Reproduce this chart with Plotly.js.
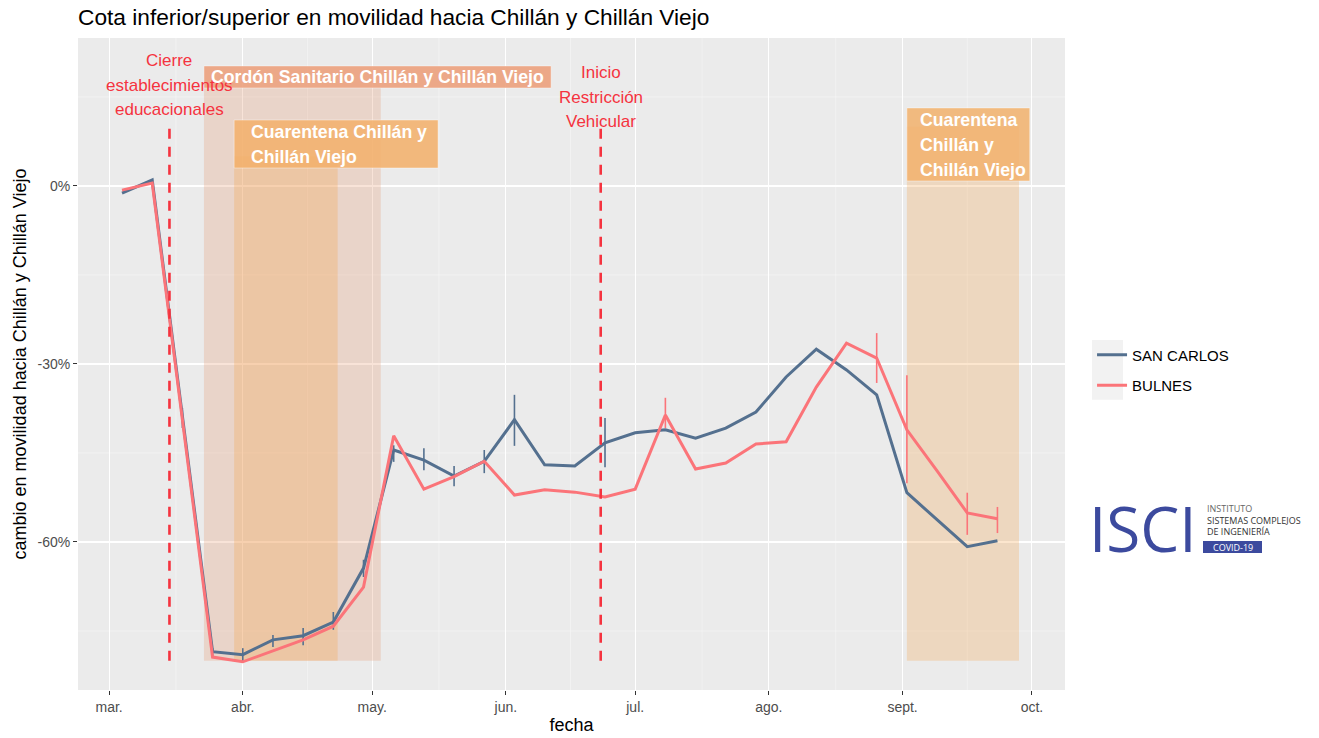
<!DOCTYPE html>
<html><head><meta charset="utf-8">
<script src="https://cdn.plot.ly/plotly-3.0.1.min.js"></script>
<style>html,body{margin:0;padding:0;background:#fff}#chart{width:1319px;height:738px}</style>
</head><body><div id="chart"></div>
<script>
const dates = ['2020-03-04','2020-03-11','2020-03-18','2020-03-25','2020-04-01','2020-04-08','2020-04-15','2020-04-22','2020-04-29','2020-05-06','2020-05-13','2020-05-20','2020-05-27','2020-06-03','2020-06-10','2020-06-17','2020-06-24','2020-07-01','2020-07-08','2020-07-15','2020-07-22','2020-07-29','2020-08-05','2020-08-12','2020-08-19','2020-08-26','2020-09-02','2020-09-09','2020-09-16','2020-09-23'];
const sanCarlos = [-1.2, 1.0, -38.8, -78.5, -79.0, -76.5, -75.8, -73.5, -64.4, -44.5, -46.2, -48.9, -46.4, -39.4, -47.0, -47.2, -43.3, -41.6, -41.1, -42.5, -40.8, -38.1, -32.2, -27.5, -31.0, -35.2, -51.7, -56.3, -60.8, -59.8];
const sanCarlosLow = [-1.2, 1.0, -40.8, -79.2, -80.2, -77.7, -77.4, -74.8, -65.9, -46.5, -47.9, -50.6, -48.4, -43.8, -47.0, -47.2, -47.4, -41.6, -41.1, -42.5, -40.8, -38.1, -32.2, -27.5, -31.0, -35.2, -51.7, -56.3, -60.8, -59.8];
const sanCarlosHigh = [-1.2, 1.0, -37.4, -77.9, -77.9, -75.7, -74.5, -71.8, -63.0, -43.7, -44.2, -47.2, -44.5, -35.2, -47.0, -47.2, -39.1, -41.6, -41.1, -42.5, -40.8, -38.1, -32.2, -27.5, -31.0, -35.2, -51.7, -56.3, -60.8, -59.8];
const bulnes = [-0.7, 0.5, -39.4, -79.4, -80.2, -78.4, -76.5, -74.2, -67.6, -42.1, -51.1, -49.0, -46.4, -52.1, -51.2, -51.6, -52.4, -51.1, -38.6, -47.7, -46.7, -43.5, -43.1, -33.9, -26.5, -29.0, -41.1, -48.0, -55.1, -56.1];
const bulnesLow = [-0.7, 0.5, -39.4, -79.4, -80.2, -78.4, -76.5, -74.2, -67.6, -42.1, -51.1, -49.0, -46.4, -52.1, -51.2, -51.6, -52.4, -51.1, -40.8, -47.7, -46.7, -43.5, -43.1, -33.9, -26.5, -33.2, -50.1, -48.0, -58.8, -58.5];
const bulnesHigh = [-0.7, 0.5, -39.4, -79.4, -80.2, -78.4, -76.5, -74.2, -67.6, -42.1, -51.1, -49.0, -46.4, -52.1, -51.2, -51.6, -52.4, -51.1, -35.7, -47.7, -46.7, -43.5, -43.1, -33.9, -26.5, -24.8, -31.9, -48.0, -51.7, -54.1];
const seriesNames = ['SAN CARLOS', 'BULNES'];
const monthTicks = ['2020-03-01','2020-04-01','2020-05-01','2020-06-01','2020-07-01','2020-08-01','2020-09-01','2020-10-01'];
const monthLabels = ['mar.','abr.','may.','jun.','jul.','ago.','sept.','oct.'];
const minorXTicks = ['2020-03-16 12:00','2020-04-16','2020-05-16 12:00','2020-06-16','2020-07-16 12:00','2020-08-16 12:00','2020-09-16'];
const yTicks = [0, -30, -60];
const yTickLabels = ['0%', '-30%', '-60%'];
const minorYTicks = [15, -15, -45, -75];
const eventDates = ['2020-03-15', '2020-06-23'];
const eventLabels = [['Cierre','establecimientos','educacionales'], ['Inicio','Restricción','Vehicular']];
const periodStart = ['2020-03-23', '2020-03-30', '2020-09-02'];
const periodEnd = ['2020-05-03', '2020-04-23', '2020-09-28'];
const periodLabels = [['Cordón Sanitario Chillán y Chillán Viejo'], ['Cuarentena Chillán y','Chillán Viejo'], ['Cuarentena','Chillán y','Chillán Viejo']];

const FONT = 'Liberation Sans, Arial, sans-serif';
const colSC = '#54708F', colBU = '#FB7479';
const RED = '#F5333F';

function errs(v, lo, hi){
  return {type:'data', symmetric:false,
    array: hi.map((h,i)=>+(h - v[i]).toFixed(2)),
    arrayminus: lo.map((l,i)=>+(v[i] - l).toFixed(2))};
}
const traces = [
  {x: dates, y: sanCarlos, name: seriesNames[0], type:'scatter', mode:'lines', legendgroup:'a',
   line:{color:colSC, width:3}, error_y: Object.assign(errs(sanCarlos, sanCarlosLow, sanCarlosHigh), {color:colSC, thickness:1.6, width:0})},
  {x: dates, y: bulnes, name: seriesNames[1], type:'scatter', mode:'lines', legendgroup:'b',
   line:{color:colBU, width:3}, error_y: Object.assign(errs(bulnes, bulnesLow, bulnesHigh), {color:colBU, thickness:1.6, width:0})}
];

const shapes = [];
minorXTicks.forEach(d => shapes.push({type:'line', layer:'below', xref:'x', yref:'paper', x0:d, x1:d, y0:0, y1:1, line:{color:'#F7F7F7', width:0.6}}));
minorYTicks.forEach(v => shapes.push({type:'line', layer:'below', xref:'paper', yref:'y', x0:0, x1:1, y0:v, y1:v, line:{color:'#F7F7F7', width:0.6}}));

// shaded periods
const periodFill = ['rgba(230,150,110,0.27)', 'rgba(245,166,80,0.30)', 'rgba(245,166,80,0.28)'];
const periodTop = [16.5, 5, 10];
periodStart.forEach((s,i) => shapes.push({type:'rect', layer:'between', xref:'x', yref:'y', x0:s, x1:periodEnd[i], y0:-80, y1:periodTop[i], fillcolor:periodFill[i], line:{width:0}}));

// event dashed lines
eventDates.forEach(d => shapes.push({type:'line', layer:'above', xref:'x', yref:'y', x0:d, x1:d, y0:-80, y1:10.3, line:{color:RED, width:2.6, dash:'10px,8px'}}));

// label boxes
const boxes = [
  {x0:'2020-03-23', x1:'2020-06-11 12:00', y0:16.52, y1:20.23, fill:'rgba(236,158,122,0.88)'},
  {x0:'2020-03-30', x1:'2020-05-16 07:00', y0:3.03, y1:11.12, fill:'rgba(242,176,108,0.88)'},
  {x0:'2020-09-02', x1:'2020-09-30 12:00', y0:0.84, y1:13.15, fill:'rgba(242,178,108,0.85)'}
];
boxes.forEach(b => shapes.push({type:'rect', layer:'above', xref:'x', yref:'y', x0:b.x0, x1:b.x1, y0:b.y0, y1:b.y1, fillcolor:b.fill, line:{color:'rgba(255,255,255,0.5)', width:0.8}}));

// legend key background
shapes.push({type:'rect', xref:'paper', yref:'paper', x0:1.0274, x1:1.0588, y0:0.445, y1:0.537, fillcolor:'#F2F2F2', line:{width:0}, layer:'below'});
// COVID-19 box
shapes.push({type:'rect', xref:'paper', yref:'paper', x0:(1203-78)/987, x1:(1262-78)/987, y0:(690-553)/652, y1:(690-541)/652, fillcolor:'#3C4A9E', line:{width:0}});

const annotations = [];
// event labels
const eventTop = [21.07, 19.05];
eventLabels.forEach((lines,i) => lines.forEach((t,j) => annotations.push({
  xref:'x', yref:'y', x:eventDates[i], y:eventTop[i], yshift:-24.5*j, text:t, showarrow:false,
  xanchor:'center', yanchor:'middle', font:{family:FONT, size:17, color:RED}})));
// period labels
const labelTop = [18.37, 9.10, 11.12];
const labelShift = [5, 15, 11];
periodLabels.forEach((lines,i) => lines.forEach((t,j) => annotations.push({
  xref:'x', yref:'y', x:periodStart[i], y:labelTop[i], yshift:-25*j, xshift:labelShift[i], text:'<b>'+t+'</b>', showarrow:false,
  xanchor:'left', yanchor:'middle', font:{family:FONT, size:17.7, color:'#FFFFFF'}})));

// logo
annotations.push({xref:'paper', yref:'paper', x:(1143-78)/987, y:(690-528)/652, text:'ISCI', showarrow:false, xanchor:'center', yanchor:'middle',
  font:{family:'Open Sans, Noto Sans, sans-serif', size:62, color:'#3C4A9E'}});
const logoLines = [['INSTITUTO',509,'#666666'],['SISTEMAS COMPLEJOS',520,'#333333'],['DE INGENIERÍA',531,'#333333']];
logoLines.forEach(l => annotations.push({xref:'paper', yref:'paper', x:(1205-78)/987, y:(690-l[1])/652, text:l[0], showarrow:false,
  xanchor:'left', yanchor:'middle', font:{family:'Open Sans, Noto Sans, sans-serif', size:9, color:l[2]}}));
annotations.push({xref:'paper', yref:'paper', x:(1232.5-78)/987, y:(690-547)/652, text:'COVID-19', showarrow:false, xanchor:'center', yanchor:'middle',
  font:{family:'Open Sans, Noto Sans, sans-serif', size:9, color:'#FFFFFF'}});

const layout = {
  width:1319, height:738,
  margin:{l:78, r:254, t:38, b:48, pad:0},
  paper_bgcolor:'#FFFFFF', plot_bgcolor:'#EBEBEB',
  font:{family:FONT, color:'#000'},
  title:{text:'Cota inferior/superior en movilidad hacia Chillán y Chillán Viejo', font:{family:FONT, size:22.7, color:'#000'},
    xref:'paper', x:0, xanchor:'left', yref:'container', y:1-17/738, yanchor:'middle'},
  xaxis:{type:'date', range:['2020-02-22 19:00','2020-10-08 16:00'], tickmode:'array', tickvals:monthTicks, ticktext:monthLabels,
    showgrid:true, gridcolor:'#FFFFFF', gridwidth:1.1, zeroline:false, showline:false,
    ticks:'outside', ticklen:4, tickwidth:1, tickcolor:'#333333', tickfont:{family:FONT, size:14, color:'#4D4D4D'},
    title:{text:'fecha', font:{family:FONT, size:18, color:'#000'}, standoff:4}, automargin:false},
  yaxis:{range:[-84.95, 24.94], tickmode:'array', tickvals:yTicks, ticktext:yTickLabels,
    showgrid:true, gridcolor:'#FFFFFF', gridwidth:1.1, zeroline:false, showline:false,
    ticks:'outside', ticklen:4, tickwidth:1, tickcolor:'#333333', tickfont:{family:FONT, size:14, color:'#4D4D4D'},
    title:{text:'cambio en movilidad hacia Chillán y Chillán Viejo', font:{family:FONT, size:18, color:'#000'}, standoff:6}, automargin:false},
  showlegend:true,
  legend:{x:1.0274, y:0.539, xanchor:'left', yanchor:'top', bgcolor:'rgba(0,0,0,0)', traceorder:'grouped', tracegroupgap:8,
    font:{family:FONT, size:15, color:'#000'}, itemwidth:30},
  shapes:shapes, annotations:annotations
};
Plotly.newPlot('chart', traces, layout, {displayModeBar:false, staticPlot:true});
</script></body></html>
